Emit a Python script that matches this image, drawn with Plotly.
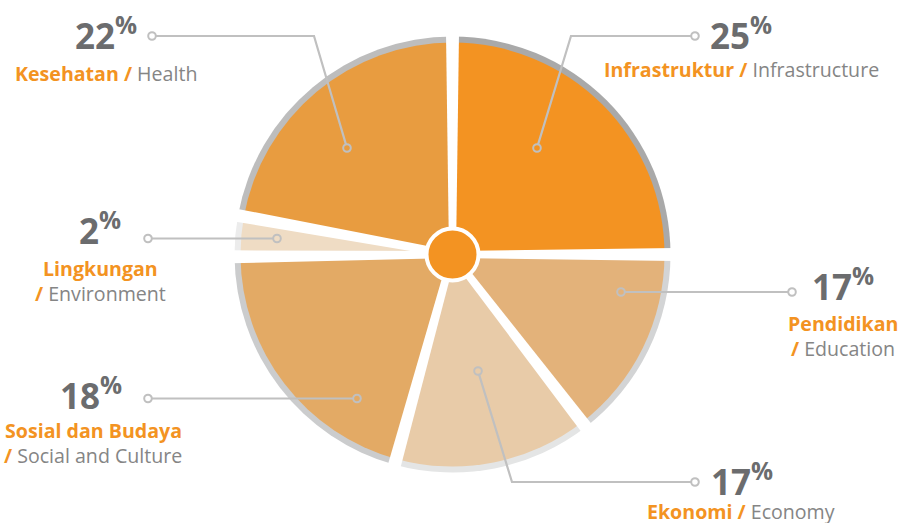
import math
import plotly.graph_objects as go

# ---------------- data ----------------
categories_id = ["Infrastruktur", "Pendidikan", "Ekonomi", "Sosial dan Budaya", "Lingkungan", "Kesehatan"]
categories_en = ["Infrastructure", "Education", "Economy", "Social and Culture", "Environment", "Health"]
percent_labels = [25, 17, 17, 18, 2, 22]
# angular size of each drawn wedge (degrees)
slice_angles_deg = [90.0, 52.3, 53.1, 74.0, 10.9, 79.7]

# ---------------- styles ----------------
W, H = 901, 523
fill_colors = ["#f39322", "#e3b27a", "#e8cba8", "#e3aa65", "#efdcc4", "#e89c40"]
rim_colors = ["#a9a9a9", "#d3d4d5", "#e4e5e5", "#cbcccd", "#ececec", "#bdbdbd"]
ORANGE = "#f39322"
NUM_GREY = "#6b6c6e"
EN_GREY = "#858585"
LINE_GREY = "#c0c0c0"

CX, CY = 452.5, 254.5      # pie centre (px)
R_OUT, R_IN = 218, 212     # rim radius / fill radius (px)
GAP_IN, GAP_OUT = 7, 13    # white gap width near centre / at rim


def dom(r):
    return dict(x=[(CX - r) / W, (CX + r) / W],
                y=[(H - CY - r) / H, (H - CY + r) / H])


fig = go.Figure()
common = dict(sort=False, direction="clockwise", rotation=0, textinfo="none",
              hoverinfo="skip", showlegend=False, labels=categories_id,
              values=slice_angles_deg)
fig.add_trace(go.Pie(domain=dom(R_OUT), marker=dict(colors=rim_colors,
                     line=dict(color="white", width=0)), **common))
fig.add_trace(go.Pie(domain=dom(R_IN), marker=dict(colors=fill_colors,
                     line=dict(color="white", width=0)), **common))

# invisible pixel-scaled axes for the gaps, leader lines and labels
fig.add_trace(go.Scatter(x=[0, W], y=[0, H], mode="markers",
                         marker=dict(opacity=0), hoverinfo="skip", showlegend=False))

shapes = []

# white wedge-shaped gaps along slice boundaries (derived from the data)
total = sum(slice_angles_deg)
cum = 0.0
for v in slice_angles_deg:
    th = math.radians(cum / total * 360.0)
    ux, uy = math.sin(th), -math.cos(th)      # radial direction (y down)
    px, py = math.cos(th), math.sin(th)       # perpendicular
    r_end = R_OUT + 4
    pts = [
        (CX + px * GAP_IN / 2, CY + py * GAP_IN / 2),
        (CX + ux * r_end + px * GAP_OUT / 2, CY + uy * r_end + py * GAP_OUT / 2),
        (CX + ux * r_end - px * GAP_OUT / 2, CY + uy * r_end - py * GAP_OUT / 2),
        (CX - px * GAP_IN / 2, CY - py * GAP_IN / 2),
    ]
    path = "M " + " L ".join(f"{x:.2f},{y:.2f}" for x, y in pts) + " Z"
    shapes.append(dict(type="path", path=path, xref="x", yref="y",
                       fillcolor="white", line=dict(width=0)))
    cum += v

# centre disc
shapes.append(dict(type="circle", xref="x", yref="y",
                   x0=CX - 26, x1=CX + 26, y0=CY - 26, y1=CY + 26,
                   line=dict(color="white", width=4), fillcolor=ORANGE))

# ---------------- label layout (px) ----------------
leaders = {
    "Kesehatan": [(152, 36), (314, 36), (347, 148)],
    "Infrastruktur": [(695, 36), (571, 36), (537, 148)],
    "Lingkungan": [(148, 238.5), (277, 238.5)],
    "Pendidikan": [(792, 292), (621, 292)],
    "Sosial dan Budaya": [(148, 398.5), (357, 398.5)],
    "Ekonomi": [(695, 482), (512, 482), (478, 371)],
}
num_pos = {
    "Kesehatan": (105.5, 33), "Infrastruktur": (740.5, 33),
    "Lingkungan": (99.5, 228.5), "Pendidikan": (842.5, 284.5),
    "Sosial dan Budaya": (91, 393), "Ekonomi": (741.5, 479),
}
# (centre x, centre y of line 1, two-line?)
lab_pos = {
    "Kesehatan": (106, 73, False), "Infrastruktur": (741.5, 69, False),
    "Lingkungan": (100, 268, True), "Pendidikan": (843, 323, True),
    "Sosial dan Budaya": (93, 430, True), "Ekonomi": (741, 511, False),
}

CR = 3.8


def shorten(a, b):
    dx, dy = b[0] - a[0], b[1] - a[1]
    d = (dx * dx + dy * dy) ** 0.5
    return (a[0] + dx / d * CR, a[1] + dy / d * CR)


for name, pts in leaders.items():
    p = list(pts)
    p[0] = shorten(pts[0], pts[1])
    p[-1] = shorten(pts[-1], pts[-2])
    path = "M " + " L ".join(f"{x:.2f},{y:.2f}" for x, y in p)
    shapes.append(dict(type="path", path=path, xref="x", yref="y",
                       line=dict(color=LINE_GREY, width=2.2)))
    for (x, y) in (pts[0], pts[-1]):
        shapes.append(dict(type="circle", xref="x", yref="y",
                           x0=x - CR, x1=x + CR, y0=y - CR, y1=y + CR,
                           line=dict(color=LINE_GREY, width=2),
                           fillcolor="rgba(0,0,0,0)"))

annotations = []
FONT = "Open Sans, Segoe UI, sans-serif"
LBL = 19.6
for i, name in enumerate(categories_id):
    nx, ny = num_pos[name]
    annotations.append(dict(x=nx, y=ny, xref="x", yref="y", showarrow=False,
                            xanchor="center", yanchor="middle",
                            text=f"<b>{percent_labels[i]}<sup>%</sup></b>",
                            font=dict(family=FONT, size=35, color=NUM_GREY)))
    lx, ly, two = lab_pos[name]
    slash = f"<span style='color:{ORANGE}'><b>/</b></span>"
    if two:
        annotations.append(dict(x=lx, y=ly, xref="x", yref="y", showarrow=False,
                                xanchor="center", yanchor="middle",
                                text=f"<b>{name}</b>",
                                font=dict(family=FONT, size=LBL, color=ORANGE)))
        annotations.append(dict(x=lx, y=ly + 25, xref="x", yref="y", showarrow=False,
                                xanchor="center", yanchor="middle",
                                text=f"{slash} {categories_en[i]}",
                                font=dict(family=FONT, size=LBL, color=EN_GREY)))
    else:
        annotations.append(dict(x=lx, y=ly, xref="x", yref="y", showarrow=False,
                                xanchor="center", yanchor="middle",
                                text=f"<span style='color:{ORANGE}'><b>{name} /</b></span> {categories_en[i]}",
                                font=dict(family=FONT, size=LBL, color=EN_GREY)))

fig.update_layout(
    width=W, height=H, margin=dict(l=0, r=0, t=0, b=0),
    paper_bgcolor="white", plot_bgcolor="rgba(0,0,0,0)",
    xaxis=dict(range=[0, W], visible=False, fixedrange=True),
    yaxis=dict(range=[H, 0], visible=False, fixedrange=True),
    shapes=shapes, annotations=annotations,
)

fig.write_html("out.html", config={"displayModeBar": False},
               post_script="document.body.style.margin='0';")
